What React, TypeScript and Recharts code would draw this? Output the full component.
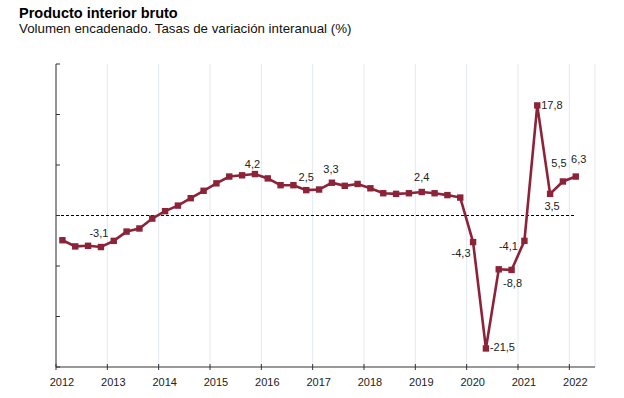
import React from 'react';
import { LineChart, Line, XAxis, YAxis, CartesianGrid, ReferenceLine } from 'recharts';

// Quarterly GDP year-on-year change, 2012 Q1 .. 2022 Q1 (as plotted)
const quarters: string[] = [];
for (let y = 2012; y <= 2022; y++) for (let q = 1; q <= 4; q++) if (quarters.length < 41) quarters.push(`${y}T${q}`);

const gdpGrowth = [
  -4.0, -5.0, -4.9, -5.1,
  -4.1, -2.6, -2.1, -0.5,
  0.7, 1.6, 2.8, 4.0,
  5.2, 6.3, 6.5, 6.7,
  6.0, 4.9, 4.9, 4.1,
  4.2, 5.3, 4.8, 5.1,
  4.4, 3.6, 3.5, 3.6,
  3.8, 3.6, 3.3, 2.9,
  -4.3, -21.5, -8.7, -8.8,
  -4.1, 17.8, 3.5, 5.5,
  6.3,
];

const yearLabels = ['2012', '2013', '2014', '2015', '2016', '2017', '2018', '2019', '2020', '2021', '2022'];

const labelIndex = [3, 15, 19, 21, 28, 32, 33, 35, 36, 37, 38, 39, 40];
const labelText = ['-3,1', '4,2', '2,5', '3,3', '2,4', '-4,3', '-21,5', '-8,8', '-4,1', '17,8', '3,5', '5,5', '6,3'];

// label placement (layout only): dx, dy (to text centre), anchor
const labelPlacement: [number, number, string][] = [
  [-2, -14, 'middle'],
  [-2.5, -10, 'middle'],
  [0, -13, 'middle'],
  [-1, -14, 'middle'],
  [0, -15, 'middle'],
  [-12, 11, 'middle'],
  [4, -1, 'start'],
  [1, 13, 'middle'],
  [-16, 5, 'middle'],
  [4, 0, 'start'],
  [2, 12, 'middle'],
  [-4, -18, 'middle'],
  [3, -18, 'middle'],
];

const data = gdpGrowth.map((v, i) => ({ x: i + 0.5, quarter: quarters[i], v }));

const COLOR = '#8C2339';
const FONT = '"Liberation Sans", Arial, Helvetica, sans-serif';
const AXIS = '#333333';

const xTicks = yearLabels.map((_, i) => i * 4);
const yTicks = [-24.5, -49 / 3, -49 / 6, 0, 49 / 6, 49 / 3, 24.5];

const XTick = (props: any) => {
  const { x, y, payload } = props;
  return (
    <g>
      <line x1={x} x2={x} y1={y - 3} y2={y + 3} stroke={AXIS} strokeWidth={1} />
      <text x={x + 6} y={y + 18.5} textAnchor="middle" fontFamily={FONT} fontSize={11} fill="#222">
        {yearLabels[Math.round(payload.value / 4)]}
      </text>
    </g>
  );
};

const YTick = (props: any) => {
  const { x, y } = props;
  return <line x1={x} x2={x + 4} y1={y} y2={y} stroke={AXIS} strokeWidth={1} />;
};

const Dot = (props: any) => {
  const { cx, cy, index } = props;
  const li = labelIndex.indexOf(index);
  return (
    <g key={`d${index}`}>
      <rect x={cx - 3.2} y={cy - 3.2} width={6.4} height={6.4} fill={COLOR} />
      {li >= 0 && (
        <text
          x={cx + labelPlacement[li][0]}
          y={cy + labelPlacement[li][1] + 4}
          textAnchor={labelPlacement[li][2] as any}
          fontFamily={FONT}
          fontSize={11}
          fill="#222"
        >
          {labelText[li]}
        </text>
      )}
    </g>
  );
};

export default function App() {
  return (
    <div style={{ position: 'absolute', left: 0, top: 0, width: 624, height: 398, background: '#fff' }}>
      <svg width={624} height={40} style={{ position: 'absolute', left: 0, top: 0 }}>
        <text x={19} y={18.3} fontFamily={FONT} fontSize={14.5} fontWeight="bold" fill="#000">
          Producto interior bruto
        </text>
        <text x={19} y={33.3} fontFamily={FONT} fontSize={13.3} fill="#111">
          Volumen encadenado. Tasas de variación interanual (%)
        </text>
      </svg>
      <div style={{ position: 'absolute', left: 0, top: 0 }}>
        <LineChart width={624} height={398} data={data} margin={{ top: 64, right: 29, bottom: 0, left: 0 }}>
          <CartesianGrid horizontal={false} vertical={true} stroke="#e3e9f0" strokeWidth={1} />
          <XAxis
            type="number"
            dataKey="x"
            domain={[0, 42]}
            ticks={xTicks}
            interval={0}
            height={31}
            tickSize={0}
            tickMargin={0}
            tickLine={false}
            tick={<XTick />}
            stroke={AXIS}
            axisLine={{ stroke: AXIS, strokeWidth: 1 }}
          />
          <YAxis
            type="number"
            domain={[-24.5, 24.5]}
            ticks={yTicks}
            interval={0}
            width={56}
            tickSize={0}
            tickMargin={0}
            tickLine={false}
            tick={<YTick />}
            axisLine={{ stroke: AXIS, strokeWidth: 1 }}
          />
          <ReferenceLine
            segment={[{ x: 0, y: 0 }, { x: 40.5, y: 0 }]}
            stroke="#000"
            strokeWidth={1}
            strokeDasharray="3 2"
          />
          <Line
            type="linear"
            dataKey="v"
            stroke={COLOR}
            strokeWidth={2.6}
            dot={Dot}
            activeDot={false}
            isAnimationActive={false}
          />
        </LineChart>
      </div>
    </div>
  );
}
